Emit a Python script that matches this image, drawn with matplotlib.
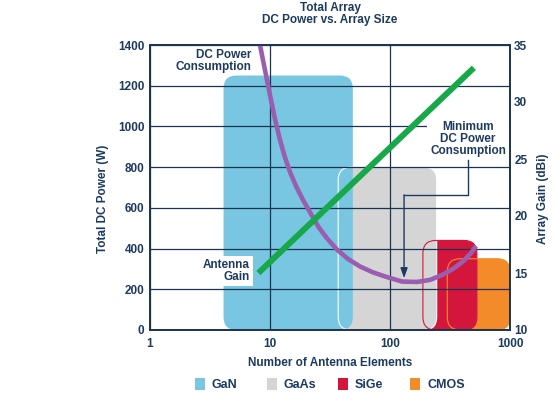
import numpy as np
import matplotlib
matplotlib.use("Agg")
from matplotlib import pyplot as plt
from matplotlib.patches import FancyBboxPatch, Rectangle
from matplotlib.transforms import IdentityTransform

plt.rcParams['font.family'] = ['Liberation Sans', 'DejaVu Sans']
plt.rcParams['font.weight'] = 'bold'
plt.rcParams['font.size'] = 8.5

NAVY = '#1d3a5f'
GRID = '#1a3350'

# Technologies: name, min elements, max elements, max DC power
techs = ['GaN', 'GaAs', 'SiGe', 'CMOS']
tech_lo = [4.1, 37, 188, 300]
tech_hi = [49, 245, 530, 1000]
tech_top = [1250, 800, 440, 350]
tech_col = ['#78c6e1', '#d5d5d6', '#d4163c', '#f38b2a']

# DC power consumption curve (W) vs number of elements
pwr_n = [8.10, 8.74, 9.44, 10.19, 11.01, 12.0, 13.21, 14.68, 16.47, 18.84, 21.96,
         25.36, 29.85, 36.16, 44.67, 56.23, 72.17, 94.4, 125.9, 167.9, 215.4,
         271.3, 335.0, 405.9, 473.2, 521]
pwr_w = [1425, 1326, 1228, 1130, 1036, 943, 855, 776, 707, 639, 570,
         506, 450, 395, 349, 312, 283, 260, 238, 236, 246,
         270, 300, 337, 378, 413]

# antenna gain (dBi) vs number of elements
gain_n = [8, 500]
gain_db = [15.0, 33.0]

fig = plt.figure(figsize=(5.56, 3.98), dpi=100)
ax = fig.add_axes([150/556, 68/398, 360/556, 285/398])
ax.set_xscale('log')
ax.set_xlim(1, 1000)
ax.set_ylim(0, 1400)
ax.set_xticks([1, 10, 100, 1000])
ax.set_xticklabels(['1', '10', '100', '1000'])
ax.xaxis.set_minor_locator(matplotlib.ticker.NullLocator())
ax.set_yticks(range(0, 1401, 200))
ax.tick_params(length=0, colors=NAVY, labelsize=8.5)
ax.tick_params(axis='x', pad=6)
ax.tick_params(axis='y', pad=4)
for s in ax.spines.values():
    s.set_color(GRID)
    s.set_linewidth(1.2)
ax.grid(True, color=GRID, lw=0.9)

ax.set_xlabel('Number of Antenna Elements', color=NAVY, fontweight='bold', labelpad=5)
ax.set_ylabel('Total DC Power (W)', color=NAVY, fontweight='bold')
ax.yaxis.set_label_coords(-0.114, 0.46)

# rounded technology boxes, corners from the data transform, drawn in pixels
fill_order = [3, 2, 1, 0]
edges = {1: 'white', 2: tech_col[2], 3: tech_col[3]}
boxes = {}
for i in range(4):
    (x0, y0), (x1, y1) = ax.transData.transform([(tech_lo[i], 0), (tech_hi[i], tech_top[i])])
    boxes[i] = (x0, y0, x1 - x0, y1 - y0)
for k, i in enumerate(fill_order):
    x0, y0, w, h = boxes[i]
    p = FancyBboxPatch((x0, y0), w, h, boxstyle='round,pad=0,rounding_size=13',
                       transform=IdentityTransform(), fc=tech_col[i], ec='none',
                       zorder=1 + 0.01 * k)
    ax.add_artist(p)
for i, ec in edges.items():
    x0, y0, w, h = boxes[i]
    p = FancyBboxPatch((x0, y0), w, h, boxstyle='round,pad=0,rounding_size=13',
                       transform=IdentityTransform(), fc='none', ec=ec, lw=0.8,
                       zorder=1.2)
    ax.add_artist(p)

ax.plot(pwr_n, pwr_w, color='#9a5db0', lw=3.3, solid_capstyle='butt',
        solid_joinstyle='round', zorder=3)

ax2 = ax.twinx()
ax2.set_ylim(10, 35)
ax2.set_yticks(range(10, 36, 5))
ax2.tick_params(length=0, colors=NAVY, labelsize=8.5, pad=3)
for s in ax2.spines.values():
    s.set_color(GRID)
    s.set_linewidth(1.2)
ax2.set_ylabel('Array Gain (dBi)', color=NAVY, fontweight='bold')
ax2.yaxis.set_label_coords(1.075, 0.46)
ax2.plot(gain_n, gain_db, color='#17a84a', lw=4.3, solid_capstyle='butt', zorder=3)

# annotations (in power-axis data coords)
ax2.text(6.95, 1321, 'DC Power\nConsumption', transform=ax.transData, ha='right',
         va='center', color=NAVY, linespacing=1.0)
ax2.text(6.8, 290, 'Antenna\nGain', transform=ax.transData, ha='right', va='center',
         color=NAVY, linespacing=1.0, bbox=dict(fc='white', ec='none', pad=2.5))
ax2.text(447, 938, 'Minimum\nDC Power\nConsumption', transform=ax.transData,
         ha='center', va='center', color=NAVY, linespacing=1.0,
         bbox=dict(fc='white', ec='none', pad=2.5), zorder=5)
ax2.plot([447, 447, 131], [835, 663, 663], transform=ax.transData, color=NAVY,
         lw=1.0, zorder=5)
ax2.annotate('', xy=(131, 255), xytext=(131, 664), xycoords=ax.transData,
             textcoords=ax.transData,
             arrowprops=dict(arrowstyle='-|>,head_length=0.7,head_width=0.25',
                             color=NAVY, lw=1.0, shrinkA=0, shrinkB=0), zorder=5)

fig.text(330/556, 1 - 8/398, 'Total Array', ha='center', va='center', color=NAVY)
fig.text(330/556, 1 - 20/398, 'DC Power vs. Array Size', ha='center', va='center',
         color=NAVY)

# legend row
leg_x = [195, 267, 338, 410]
for name, c, x in zip(techs, tech_col, leg_x):
    fig.patches.append(Rectangle((x/556, 1 - 390/398), 10/556, 12/398, fc=c, ec='none',
                                 transform=fig.transFigure, figure=fig))
    fig.text((x + 17)/556, 1 - 385/398, name, ha='left', va='center', color=NAVY,
             fontsize=9)

fig.savefig('out.png', dpi=100)
